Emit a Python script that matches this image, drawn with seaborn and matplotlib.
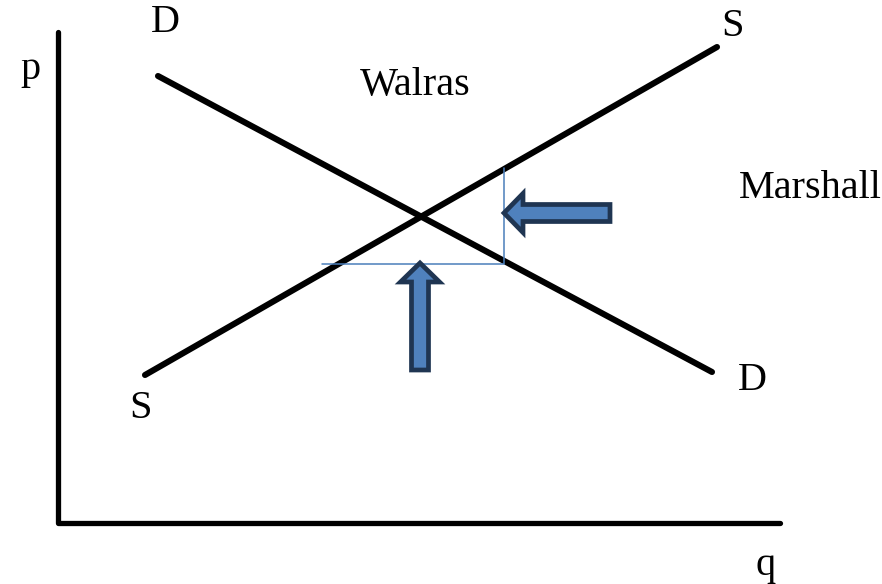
import matplotlib
matplotlib.use('Agg')
import matplotlib.pyplot as plt
import seaborn as sns
import pandas as pd

# diagram coordinates (q to the right, p upward), canvas 882 x 584
demand_q = [158, 712]
demand_p = [508, 212]
supply_q = [145, 717]
supply_p = [209, 537]

axis_q = [58, 58, 780]
axis_p = [552, 61, 61]

# guide lines showing the two adjustment paths
guide_q = [322, 504, 504]
guide_p = [320, 320, 416]

# Marshall arrow (quantity adjusts) and Walras arrow (price adjusts)
marshall_arrow = (610, 371, -106, 0)
walras_arrow = (420, 214, 0, 107)

labels = [
    ('p', 30, 514),
    ('D', 165, 561),
    ('S', 733, 558),
    ('Walras', 415, 498),
    ('Marshall', 810, 395),
    ('S', 140, 175),
    ('D', 752, 203),
    ('q', 766, 18),
]

sns.set_style('white')
plt.rcParams['font.family'] = ['Liberation Serif', 'DejaVu Serif']

fig = plt.figure(figsize=(8.82, 5.84), dpi=100)
ax = fig.add_axes([0, 0, 1, 1])

lines = pd.DataFrame({
    'q': demand_q + supply_q,
    'p': demand_p + supply_p,
    'curve': ['D', 'D', 'S', 'S'],
})
sns.lineplot(data=lines, x='q', y='p', units='curve', estimator=None, sort=False,
             color='black', linewidth=4.4, solid_capstyle='round', ax=ax)

axis_df = pd.DataFrame({'q': axis_q, 'p': axis_p})
sns.lineplot(data=axis_df, x='q', y='p', estimator=None, sort=False,
             color='black', linewidth=3.8, ax=ax)

guide_df = pd.DataFrame({'q': guide_q, 'p': guide_p})
sns.lineplot(data=guide_df, x='q', y='p', estimator=None, sort=False,
             color='#4a7ebb', linewidth=1.1, ax=ax)

for x, y, dx, dy in [marshall_arrow, walras_arrow]:
    ax.arrow(x, y, dx, dy, width=17, head_width=39, head_length=19,
             length_includes_head=True, facecolor='#4f81bd',
             edgecolor='#1f3552', linewidth=3.4, joinstyle='miter', zorder=5)

for txt, x, y in labels:
    ax.text(x, y, txt, fontsize=29, ha='center', va='center', color='black')

ax.set_xlim(0, 882)
ax.set_ylim(0, 584)
ax.axis('off')

fig.savefig('out.png', dpi=100)
